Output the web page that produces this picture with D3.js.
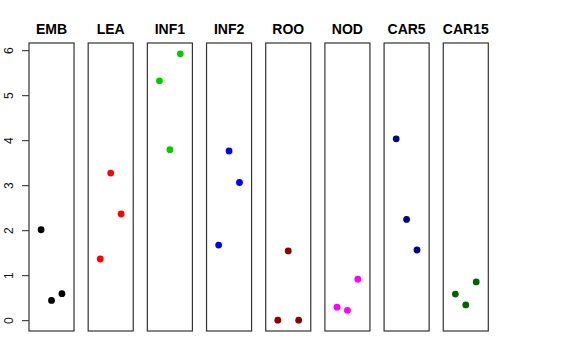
<!DOCTYPE html>
<html>
<head>
<meta charset="utf-8">
<script src="https://cdn.jsdelivr.net/npm/d3@7"></script>
<style>
  body { margin: 0; background: #fff; }
  svg { display: block; font-family: "Liberation Sans", Arial, sans-serif; }
</style>
</head>
<body>
<div id="holder"></div>
<script>
const categories = ['EMB', 'LEA', 'INF1', 'INF2', 'ROO', 'NOD', 'CAR5', 'CAR15'];
const colors = ['#000000', '#ff0000', '#00cd00', '#0000ff', '#8b0000', '#ff00ff', '#000080', '#006400'];
const positions = [1, 2, 3];
const values = [
    [2.01, 0.44, 0.59],
    [1.36, 3.27, 2.36],
    [5.32, 3.79, 5.92],
    [1.67, 3.76, 3.06],
    [0.00, 1.54, 0.00],
    [0.29, 0.22, 0.91],
    [4.03, 2.24, 1.56],
    [0.58, 0.34, 0.85]
];
const yTicks = [0, 1, 2, 3, 4, 5, 6];

const w = 576;
const h = 360;

const svg = d3.select('#holder')
    .append('svg')
    .attr('width', w)
    .attr('height', h);

const panel = d3.scaleBand()
    .domain(categories)
    .range([29, 488.3])
    .paddingInner(0.239)
    .paddingOuter(0);

const xScale = d3.scaleLinear()
    .domain([-0.16, 4.16])
    .range([0, panel.bandwidth()]);

const yScale = d3.scaleLinear()
    .domain([-0.24, 6.16])
    .range([331, 43]);

// y axis on the first panel
const yAxis = d3.axisLeft(yScale)
    .tickValues(yTicks)
    .tickSize(7)
    .tickFormat(d3.format('d'));

const gy = svg.append('g')
    .attr('transform', 'translate(' + panel(categories[0]) + ',0)')
    .call(yAxis);
gy.select('.domain').remove();
gy.selectAll('line').attr('stroke', '#222');
gy.selectAll('text')
    .attr('x', null)
    .attr('dy', null)
    .attr('text-anchor', 'middle')
    .attr('transform', 'translate(-16.3,0) rotate(-90)')
    .attr('font-size', 12)
    .attr('fill', '#111');

const panels = svg.selectAll('g.panel')
    .data(categories)
    .enter()
    .append('g')
    .attr('class', 'panel')
    .attr('transform', d => 'translate(' + panel(d) + ',0)');

panels.append('rect')
    .attr('x', 0)
    .attr('y', yScale(6.16))
    .attr('width', panel.bandwidth())
    .attr('height', yScale(-0.24) - yScale(6.16))
    .attr('fill', 'none')
    .attr('stroke', '#333')
    .attr('stroke-width', 1.2);

panels.append('text')
    .attr('x', panel.bandwidth() / 2)
    .attr('y', 34)
    .attr('text-anchor', 'middle')
    .attr('font-weight', 'bold')
    .attr('font-size', 14)
    .text(d => d);

panels.selectAll('circle')
    .data((d, i) => values[i].map((v, j) => ({ x: positions[j], y: v, c: colors[i] })))
    .enter()
    .append('circle')
    .attr('cx', d => xScale(d.x))
    .attr('cy', d => yScale(d.y))
    .attr('r', 3.4)
    .attr('fill', d => d.c);
</script>
</body>
</html>
